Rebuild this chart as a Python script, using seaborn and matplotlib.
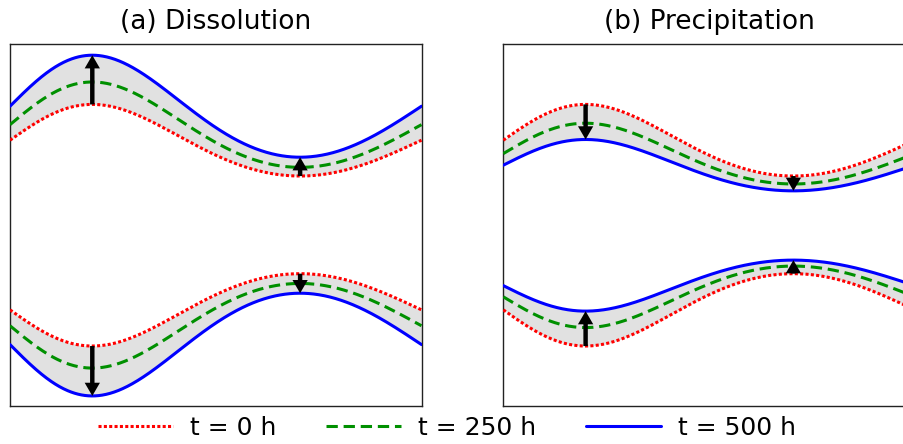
import numpy as np
import pandas as pd
import matplotlib
matplotlib.use("Agg")
import matplotlib.pyplot as plt
import seaborn as sns

# ---------------- data ----------------
time_labels = ["t = 0 h", "t = 250 h", "t = 500 h"]
line_colors = ["#ff0000", "#009000", "#0000ff"]

panel_titles = ["(a) Dissolution", "(b) Precipitation"]

# interface centre level and wave amplitude (axes fraction) for t = 0, 250, 500 h
dissolution_mid_upper = [0.734, 0.777, 0.828]
dissolution_amp_upper = [0.099, 0.118, 0.141]
dissolution_mid_lower = [0.265, 0.221, 0.169]
dissolution_amp_lower = [0.100, 0.117, 0.142]

precipitation_mid_upper = [0.734, 0.697, 0.665]
precipitation_amp_upper = [0.099, 0.084, 0.071]
precipitation_mid_lower = [0.265, 0.301, 0.332]
precipitation_amp_lower = [0.100, 0.085, 0.0705]

# wall shape: phase warp coefficients of the wavy channel wall
warp_a = 0.431
warp_b = 0.064
# positions of the crest and trough (where growth arrows are drawn)
arrow_x = [0.2, 0.705]

x_grid = np.linspace(0.0, 1.0, 600)


def wall_shape(x):
    phase = 2 * np.pi * x + warp_a * np.sin(np.pi * x) + warp_b * np.sin(2 * np.pi * x)
    return np.sin(phase)


def wall(x, mid, amp, sign):
    return mid + sign * amp * wall_shape(x)


# ---------------- figure ----------------
sns.set_theme(style="white")
plt.rcParams["font.family"] = ["DejaVu Sans"]
plt.rcParams["text.color"] = "black"

W, H = 904, 444
fig = plt.figure(figsize=(W / 100, H / 100), dpi=100)
ax_h = 361.7 / H
ax_y = (H - 405.7) / H
ax_w = 411.5 / W
ax1 = fig.add_axes([10 / W, ax_y, ax_w, ax_h])
ax2 = fig.add_axes([503.3 / W, ax_y, ax_w, ax_h])

panels = [
    (ax1, panel_titles[0],
     [(dissolution_mid_upper, dissolution_amp_upper, 1),
      (dissolution_mid_lower, dissolution_amp_lower, -1)]),
    (ax2, panel_titles[1],
     [(precipitation_mid_upper, precipitation_amp_upper, 1),
      (precipitation_mid_lower, precipitation_amp_lower, -1)]),
]

styles = [(0, (1.0, 0.75)), (0, (3.7, 1.9)), "-"]
lw = 2.2
handles = None

for ax, title, groups in panels:
    for gi, (mids, amps, sign) in enumerate(groups):
        y_red = wall(x_grid, mids[0], amps[0], sign)
        y_blue = wall(x_grid, mids[2], amps[2], sign)
        ax.fill_between(x_grid, y_red, y_blue, color="#e1e1e1", lw=0, zorder=1)
        for k in range(3):
            y = wall(x_grid, mids[k], amps[k], sign)
            sns.lineplot(x=x_grid, y=y, ax=ax, color=line_colors[k],
                         linestyle=styles[k], lw=lw, zorder=3,
                         label=time_labels[k] if (ax is ax1 and gi == 0) else None,
                         sort=False, estimator=None)
        for xa in arrow_x:
            y0 = wall(np.array([xa]), mids[0], amps[0], sign)[0]
            y1 = wall(np.array([xa]), mids[2], amps[2], sign)[0]
            ax.annotate("", xy=(xa, y1), xytext=(xa, y0), xycoords="data",
                        arrowprops=dict(arrowstyle="simple,head_length=0.95,head_width=1.1,tail_width=0.32",
                                        mutation_scale=10, lw=0, color="black",
                                        shrinkA=0, shrinkB=0),
                        zorder=5)
    ax.set_xlim(0, 1)
    ax.set_ylim(0, 1)
    ax.set_xticks([])
    ax.set_yticks([])
    ax.set_xlabel("")
    ax.set_ylabel("")
    for s in ax.spines.values():
        s.set_visible(True)
        s.set_color("#222222")
        s.set_linewidth(1.0)
    ax.set_title(title, fontsize=19, pad=10.5, color="black")
    if ax.get_legend() is not None:
        handles, labels = ax.get_legend_handles_labels()
        ax.get_legend().remove()

fig.legend(handles, labels, loc="center", bbox_to_anchor=(447 / W, 1 - 428 / H),
           ncol=3, frameon=False, fontsize=18, handlelength=3.0,
           handletextpad=0.68, columnspacing=2.0, borderpad=0.2,
           labelcolor="black")

fig.savefig("out.png", dpi=100)
